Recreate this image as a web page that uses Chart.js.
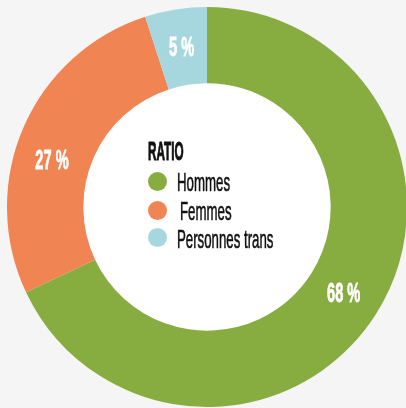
<!DOCTYPE html>
<html>
<head>
<meta charset="utf-8">
<script src="https://cdn.jsdelivr.net/npm/chart.js@4/dist/chart.umd.min.js"></script>
<style>
  html, body { margin: 0; padding: 0; background: #f5f5f5; overflow: hidden; width: 406px; height: 408px; }
  #wrap { position: absolute; left: 0; top: 0; width: 414px; height: 414px; }
  #legend { position: absolute; left: 0; top: 0; width: 406px; height: 408px; pointer-events: none; font-family: "Liberation Sans", Arial, sans-serif; color: #111; }
  .t { position: absolute; white-space: nowrap; line-height: 1; transform-origin: 0 0; }
  .title { font-weight: bold; font-size: 26px; transform: scaleX(0.45); -webkit-text-stroke: 1px #111; }
  .item { font-size: 25px; transform: scaleX(0.53); -webkit-text-stroke: 0.6px #111; }
  .dot { position: absolute; width: 19px; height: 19px; border-radius: 50%; }
</style>
</head>
<body>
<div id="wrap"><canvas id="c" width="414" height="414"></canvas></div>
<div id="legend"></div>
<script>
const categories = ["Hommes", "Femmes", "Personnes trans"];
const values = [68, 27, 5];
const valueLabels = ["68 %", "27 %", "5 %"];
const colors = ["#87ad41", "#f08453", "#a6d7df"];
const legendTitle = "RATIO";

// small angular nudges (degrees) for label placement, as in the original layout
const labelAngleNudge = [0, -6.7, 0];

const holePlugin = {
  id: 'whiteHole',
  beforeDatasetsDraw(chart) {
    const arc = chart.getDatasetMeta(0).data[0];
    if (!arc) return;
    const p = arc.getProps(['x','y','innerRadius'], true);
    const ctx = chart.ctx;
    ctx.save();
    ctx.fillStyle = '#ffffff';
    ctx.beginPath();
    ctx.arc(p.x, p.y, p.innerRadius + 0.5, 0, Math.PI * 2);
    ctx.fill();
    ctx.restore();
  }
};

const labelPlugin = {
  id: 'sliceLabels',
  afterDatasetsDraw(chart) {
    const ctx = chart.ctx;
    const meta = chart.getDatasetMeta(0);
    meta.data.forEach((arc, i) => {
      const p = arc.getProps(['x','y','startAngle','endAngle','innerRadius','outerRadius'], true);
      const mid = (p.startAngle + p.endAngle) / 2 + labelAngleNudge[i] * Math.PI / 180;
      const r = (p.innerRadius + p.outerRadius) / 2;
      const x = p.x + Math.cos(mid) * r;
      const y = p.y + Math.sin(mid) * r;
      ctx.save();
      ctx.fillStyle = '#ffffff';
      ctx.strokeStyle = '#ffffff';
      ctx.lineWidth = 0.8;
      ctx.font = 'bold 27px "Liberation Sans", Arial, sans-serif';
      ctx.textAlign = 'center';
      ctx.textBaseline = 'middle';
      ctx.translate(x, y);
      ctx.scale(0.54, 1);
      ctx.fillText(valueLabels[i], 0, 1);
      ctx.strokeText(valueLabels[i], 0, 1);
      ctx.restore();
    });
  }
};

new Chart(document.getElementById('c'), {
  type: 'doughnut',
  data: {
    labels: categories,
    datasets: [{
      data: values,
      backgroundColor: colors,
      borderWidth: 0,
      radius: 200,
      cutout: 128
    }]
  },
  options: {
    responsive: false,
    animation: false,
    layout: { padding: 0 },
    plugins: { legend: { display: false }, tooltip: { enabled: false } }
  },
  plugins: [holePlugin, labelPlugin]
});

// center legend
const lg = document.getElementById('legend');
const title = document.createElement('div');
title.className = 't title';
title.textContent = legendTitle;
title.style.left = '148px';
title.style.top = '138px';
lg.appendChild(title);
const itemTops = [170, 199, 226.5];
const itemLefts = [177, 179.5, 177];
const dotTops = [172, 200.5, 228];
categories.forEach((name, i) => {
  const d = document.createElement('div');
  d.className = 'dot';
  d.style.background = colors[i];
  d.style.left = '148px';
  d.style.top = dotTops[i] + 'px';
  lg.appendChild(d);
  const t = document.createElement('div');
  t.className = 't item';
  t.textContent = name;
  t.style.left = itemLefts[i] + 'px';
  t.style.top = itemTops[i] + 'px';
  lg.appendChild(t);
});
</script>
</body>
</html>
